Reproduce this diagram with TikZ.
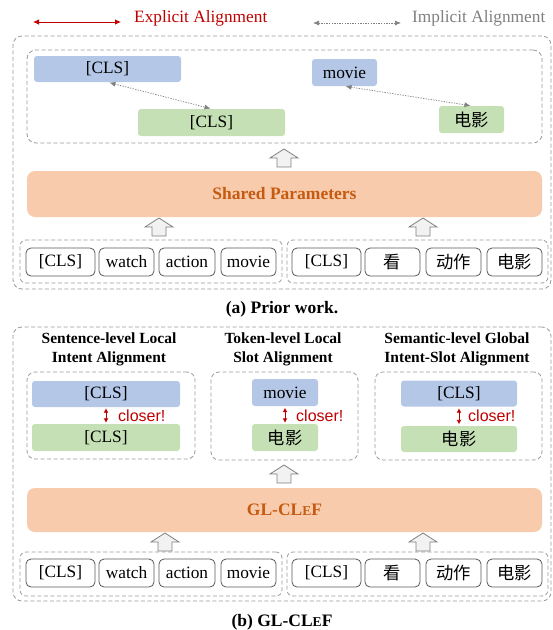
\documentclass[tikz,border=0pt]{standalone}
\usepackage{fontspec}
\setmainfont{Liberation Serif}
\newfontfamily\cjk{Noto Sans CJK SC}
\newfontfamily\sansf{Liberation Sans}
\usetikzlibrary{arrows.meta,calc}
\definecolor{boxblue}{HTML}{B4C7E7}
\definecolor{boxgreen}{HTML}{C5E0B4}
\definecolor{peach}{HTML}{F8CBAD}
\definecolor{burnt}{HTML}{C55A11}
\definecolor{redline}{HTML}{C00000}
\definecolor{dashgray}{HTML}{9A9A9A}
\definecolor{tokgray}{HTML}{595959}
\definecolor{arrowgray}{HTML}{808080}
\begin{document}
\begin{tikzpicture}[x=1pt,y=-1pt,
  txt/.style={font=\fontsize{17.3}{20}\selectfont},
  dbox/.style={draw=dashgray,line width=0.8pt,dash pattern=on 4pt off 2.5pt,rounded corners=9pt,inner sep=0pt},
  bluebox/.style={fill=boxblue,rounded corners=3pt,inner sep=0pt,txt},
  greenbox/.style={fill=boxgreen,rounded corners=3pt,inner sep=0pt,txt},
  tokbox/.style={draw=tokgray,fill=white,line width=0.8pt,rounded corners=5pt,inner sep=0pt,minimum height=28pt,txt},
  mainbox/.style={fill=peach,rounded corners=8pt,inner sep=0pt,minimum width=515pt,
     font=\fontsize{17.5}{20}\selectfont\bfseries,text=burnt},
  heading/.style={align=center,font=\fontsize{15.5}{19}\selectfont\bfseries},
  caption/.style={font=\fontsize{17.5}{20}\selectfont\bfseries},
  implicit/.style={draw=arrowgray,line width=0.7pt,dash pattern=on 1.3pt off 1.3pt,
     {Latex[length=6pt,width=5pt]}-{Latex[length=6pt,width=5pt]}},
  explicit/.style={draw=redline,line width=0.8pt,{Latex[length=6pt,width=5.5pt]}-{Latex[length=6pt,width=5.5pt]}},
  closerarrow/.style={draw=redline,line width=0.9pt,{Latex[length=4.5pt,width=5pt]}-{Latex[length=4.5pt,width=5pt]}},
  closertxt/.style={anchor=west,text=redline,inner sep=0pt,font=\sansf\fontsize{16}{18}\selectfont},
  blockup/.pic={\draw[draw=arrowgray,fill=black!5,line width=0.8pt]
     (-7,0) -- (-7,-9) -- (-14,-9) -- (0,-18) -- (14,-9) -- (7,-9) -- (7,0) -- cycle;}
]
\useasboundingbox (0,0) rectangle (553,630);

% ---------- legend ----------
\coordinate (exA) at (33,22);
\coordinate (exB) at (121,22);
\draw[explicit] (exA) -- (exB);
\node[txt,text=redline,anchor=west,inner sep=0pt] (exTxt) at (134,18) {Explicit Alignment};
\coordinate (imA) at (313,23);
\coordinate (imB) at (401,23);
\draw[implicit] (imA) -- (imB);
\node[txt,text=arrowgray,anchor=west,inner sep=0pt] (imTxt) at (412,18) {Implicit Alignment};

% ---------- (a) prior work ----------
\node[dbox,minimum width=538pt,minimum height=253pt] (outerA) at (282,162.5) {};
\node[dbox,minimum width=515pt,minimum height=93pt] (innerA) at (284.5,96.5) {};
\node[bluebox,minimum width=147pt,minimum height=26pt] (clsBlueA) at (107.5,69) {[CLS]};
\node[greenbox,minimum width=147pt,minimum height=27pt] (clsGreenA) at (211.5,122.5) {[CLS]};
\node[bluebox,minimum width=65pt,minimum height=27pt] (movieBlueA) at (344.5,72.5) {movie};
\node[greenbox,minimum width=65pt,minimum height=27pt] (dyGreenA) at (471.5,119.5) {\cjk 电影};
\draw[implicit,shorten <=2pt,shorten >=1pt] (clsBlueA.south) -- (clsGreenA.north);
\draw[implicit,shorten <=1pt,shorten >=1pt] (movieBlueA.south) -- (dyGreenA.north);

\pic at (284,167) {blockup};
\node[mainbox,minimum height=46pt] (sharedA) at (284.5,194) {Shared Parameters};
\pic at (159,236) {blockup};
\pic at (423,236) {blockup};

\node[dbox,rounded corners=6pt,minimum width=262pt,minimum height=43pt] (groupLA) at (151,261.5) {};
\node[dbox,rounded corners=6pt,minimum width=261pt,minimum height=43pt] (groupRA) at (417.5,261.5) {};
\node[tokbox,minimum width=69pt] (tLA1) at (60.5,262) {[CLS]};
\node[tokbox,minimum width=55pt] (tLA2) at (126.5,262) {watch};
\node[tokbox,minimum width=56pt] (tLA3) at (187,262) {action};
\node[tokbox,minimum width=55pt] (tLA4) at (248.5,262) {movie};
\node[tokbox,minimum width=69pt] (tRA1) at (326.5,262) {[CLS]};
\node[tokbox,minimum width=55pt] (tRA2) at (392.5,262) {\cjk 看};
\node[tokbox,minimum width=55pt] (tRA3) at (453.5,262) {\cjk 动作};
\node[tokbox,minimum width=55pt] (tRA4) at (514.5,262) {\cjk 电影};

\node[caption] (capA) at (282,309) {(a) Prior work.};

% ---------- (b) GL-CLeF ----------
\node[dbox,minimum width=538pt,minimum height=274pt] (outerB) at (282,464) {};

\node[heading] (hS) at (109,349.5) {Sentence-level Local\\Intent Alignment};
\node[heading] (hT) at (283,349.5) {Token-level Local\\Slot Alignment};
\node[heading] (hG) at (457,349.5) {Semantic-level Global\\Intent-Slot Alignment};

\node[dbox,rounded corners=8pt,minimum width=168pt,minimum height=87pt] (boxS) at (111,415.5) {};
\node[dbox,rounded corners=8pt,minimum width=147pt,minimum height=88pt] (boxT) at (284.5,416) {};
\node[dbox,rounded corners=8pt,minimum width=167pt,minimum height=88pt] (boxG) at (458.5,416) {};

\node[bluebox,minimum width=148pt,minimum height=26pt] (sBlue) at (106,394) {[CLS]};
\node[greenbox,minimum width=148pt,minimum height=27pt] (sGreen) at (106,437.5) {[CLS]};
\draw[closerarrow,shorten <=1pt,shorten >=1pt] (sBlue.south) -- (sGreen.north);
\node[closertxt] (sCl) at (118,416) {closer!};

\node[bluebox,minimum width=66pt,minimum height=27pt] (tBlue) at (285,392.5) {movie};
\node[greenbox,minimum width=66pt,minimum height=27pt] (tGreen) at (285,437.5) {\cjk 电影};
\draw[closerarrow,shorten <=1.5pt,shorten >=1pt] (tBlue.south) -- (tGreen.north);
\node[closertxt] (tCl) at (296,416) {closer!};

\node[bluebox,minimum width=116pt,minimum height=26pt] (gBlue) at (459,393.5) {[CLS]};
\node[greenbox,minimum width=116pt,minimum height=26pt] (gGreen) at (459,439) {\cjk 电影};
\draw[closerarrow,shorten <=1.5pt,shorten >=1.5pt] (gBlue.south) -- (gGreen.north);
\node[closertxt] (gCl) at (468,416) {closer!};

\pic at (284,483) {blockup};
\node[mainbox,minimum height=44pt] (glB) at (284.5,510) {GL-CL{\fontsize{13.5}{16}\selectfont E}F};
\pic at (165,551) {blockup};
\pic at (423,551) {blockup};

\node[dbox,rounded corners=6pt,minimum width=262pt,minimum height=44pt] (groupLB) at (151,574) {};
\node[dbox,rounded corners=6pt,minimum width=261pt,minimum height=44pt] (groupRB) at (417.5,574) {};
\node[tokbox,minimum width=69pt] (tLB1) at (60.5,573) {[CLS]};
\node[tokbox,minimum width=55pt] (tLB2) at (126.5,573) {watch};
\node[tokbox,minimum width=56pt] (tLB3) at (187,573) {action};
\node[tokbox,minimum width=55pt] (tLB4) at (248.5,573) {movie};
\node[tokbox,minimum width=69pt] (tRB1) at (326.5,573) {[CLS]};
\node[tokbox,minimum width=55pt] (tRB2) at (392.5,573) {\cjk 看};
\node[tokbox,minimum width=55pt] (tRB3) at (453.5,573) {\cjk 动作};
\node[tokbox,minimum width=55pt] (tRB4) at (514.5,573) {\cjk 电影};

\node[caption] (capB) at (282,622) {(b) GL-CL{\fontsize{13.5}{16}\selectfont E}F};
\end{tikzpicture}
\end{document}
